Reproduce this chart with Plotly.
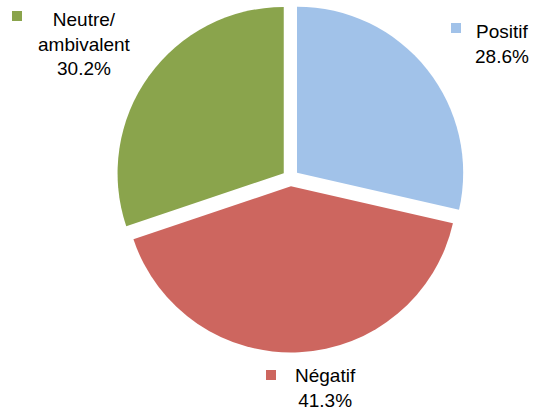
import plotly.graph_objects as go

W, H = 536, 414

# Opinion shares (percent), drawn clockwise from 12 o'clock
labels = ["Positif", "Négatif", "Neutre/<br>ambivalent"]
values = [28.6, 41.3, 30.2]
colors = ["#A1C2E9", "#CD665F", "#8AA44C"]

# Label anchors in pixels: (text centre x, text top y, square left x, square top y)
label_pos = [
    (502, 19, 451, 23),
    (325, 363, 266, 370),
    (84, 7, 12, 11),
]


def fx(px):
    return px / W


def fy(py):
    return 1 - py / H


fig = go.Figure(
    go.Pie(
        labels=labels,
        values=values,
        sort=False,
        direction="clockwise",
        rotation=0,
        pull=[0.05] * len(values),
        marker=dict(colors=colors, line=dict(width=0)),
        textinfo="none",
        hoverinfo="label+percent",
        domain=dict(x=[116 / W, 465 / W], y=[61.5 / H, 410.5 / H]),
        showlegend=False,
    )
)

annotations = []
shapes = []
for lab, val, col, (cx, ty, sx, sy) in zip(labels, values, colors, label_pos):
    annotations.append(
        dict(
            text=f"{lab}<br>{val:.1f}%",
            x=fx(cx),
            y=fy(ty),
            xref="paper",
            yref="paper",
            xanchor="center",
            yanchor="top",
            showarrow=False,
            align="center",
            font=dict(family="Liberation Sans, Arial, sans-serif", size=19, color="#000000"),
        )
    )
    shapes.append(
        dict(
            type="rect",
            xref="paper",
            yref="paper",
            x0=fx(sx),
            x1=fx(sx + 10),
            y0=fy(sy + 10),
            y1=fy(sy),
            fillcolor=col,
            line=dict(width=0),
        )
    )

fig.update_layout(
    width=W,
    height=H,
    margin=dict(l=0, r=0, t=0, b=0),
    paper_bgcolor="white",
    plot_bgcolor="white",
    annotations=annotations,
    shapes=shapes,
)

fig.write_html("out.html")
